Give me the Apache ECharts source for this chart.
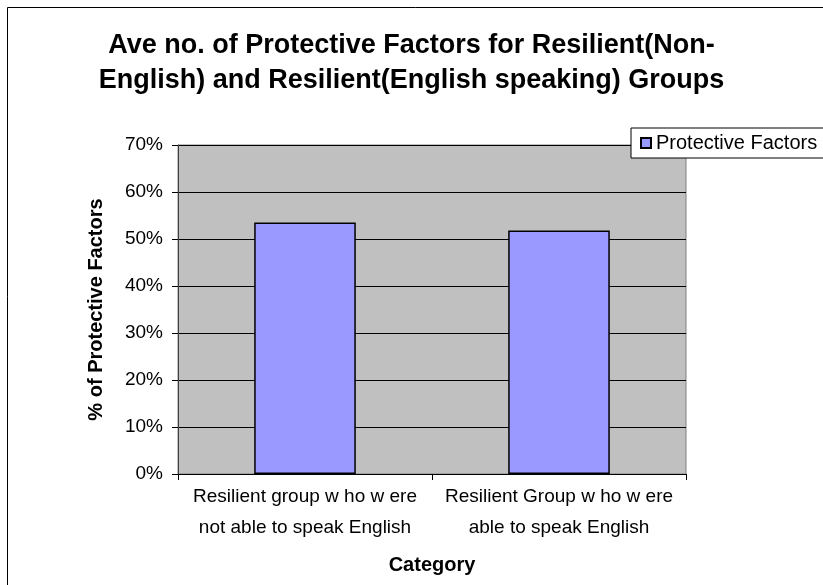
<!DOCTYPE html>
<html>
<head>
<meta charset="utf-8">
<script src="https://cdn.jsdelivr.net/npm/echarts@6/dist/echarts.min.js"></script>
<style>
html,body{margin:0;padding:0;background:#fff;}
#c{width:823px;height:585px;}
</style>
</head>
<body>
<div id="c"></div>
<script>
const titleText = "Ave no. of Protective Factors for Resilient(Non-\nEnglish) and Resilient(English speaking) Groups";
const categories = ["Resilient group w ho w ere\nnot able to speak English", "Resilient Group w ho w ere\nable to speak English"];
const seriesName = "Protective Factors";
const values = [0.535, 0.518];
const yTicks = [0, 0.1, 0.2, 0.3, 0.4, 0.5, 0.6, 0.7];

const font = "'Liberation Sans', Arial, sans-serif";
const chart = echarts.init(document.getElementById('c'));
chart.setOption({
  animation: false,
  backgroundColor: '#fff',
  textStyle: { fontFamily: font },
  graphic: [{
    type: 'rect', left: 5, top: 5,
    shape: { x: 0, y: 0, width: 840, height: 600 },
    style: { fill: 'none', stroke: '#000', lineWidth: 1 },
    z: 0
  }],
  title: {
    text: titleText, left: 'center', top: 23,
    textStyle: { fontFamily: font, fontSize: 27, fontWeight: 'bold', color: '#000', lineHeight: 35 }
  },
  legend: {
    left: 631, top: 128,
    orient: 'vertical',
    backgroundColor: '#fff', borderColor: '#000', borderWidth: 1,
    padding: [5, 10, 5, 9],
    itemWidth: 10, itemHeight: 10, itemGap: 4,
    icon: 'rect',
    textStyle: { fontFamily: font, fontSize: 20, color: '#000' },
    data: [seriesName]
  },
  grid: {
    left: 178, right: 137, top: 145, bottom: 111,
    show: true, backgroundColor: '#C0C0C0', borderColor: '#808080', borderWidth: 1
  },
  xAxis: {
    type: 'category', data: categories,
    name: 'Category', nameLocation: 'middle', nameGap: 81,
    nameTextStyle: { fontFamily: font, fontSize: 20, fontWeight: 'bold', color: '#000' },
    axisLine: { lineStyle: { color: '#000', width: 1 } },
    axisTick: { show: true, length: 6, alignWithLabel: false, lineStyle: { color: '#000' } },
    axisLabel: { fontFamily: font, fontSize: 19, color: '#000', lineHeight: 31, margin: 7, interval: 0 }
  },
  yAxis: {
    type: 'value', min: 0, max: 0.7, interval: 0.1,
    name: '% of Protective Factors', nameLocation: 'middle', nameGap: 72,
    nameTextStyle: { fontFamily: font, fontSize: 20, fontWeight: 'bold', color: '#000' },
    axisLine: { show: true, lineStyle: { color: '#404040', width: 1 } },
    axisTick: { show: true, length: 6, inside: false, lineStyle: { color: '#000' } },
    axisLabel: {
      fontFamily: font, fontSize: 19, color: '#000', margin: 15,
      formatter: v => Math.round(v * 100) + '%'
    },
    splitLine: { show: true, lineStyle: { color: '#000', width: 1 } }
  },
  series: [{
    name: seriesName, type: 'bar', data: values,
    barWidth: '40%',
    itemStyle: { color: '#9999FF', borderColor: '#000', borderWidth: 1.5 }
  }]
});
</script>
</body>
</html>
